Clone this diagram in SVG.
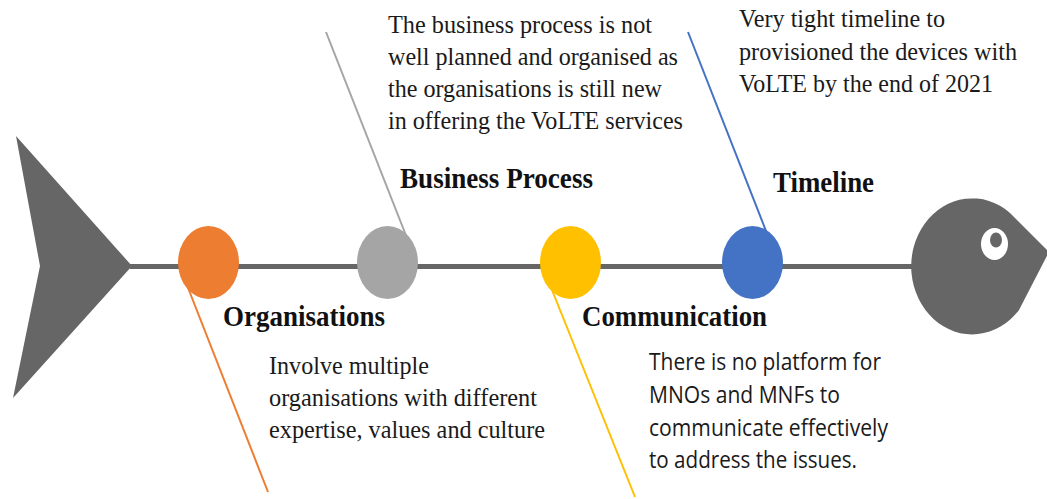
<svg xmlns="http://www.w3.org/2000/svg" width="1047" height="499" viewBox="0 0 1047 499">
  <style>
    .body { fill: #666666; }
    .spine { stroke: #666666; stroke-width: 5; fill: none; }
    .bone { stroke-width: 2; fill: none; }
    .title { font-family: "Liberation Serif", "Times New Roman", serif; font-weight: bold; font-size: 30px; fill: #111; }
    .note { font-family: "Liberation Serif", "Times New Roman", serif; font-size: 26px; fill: #1a1a1a; }
    .note-sans { font-family: "Open Sans", "Noto Sans", sans-serif; font-size: 23.5px; fill: #1a1a1a; }
  </style>

  <rect width="1047" height="499" fill="#ffffff"/>

  <!-- backbone -->
  <line class="spine" x1="130" y1="266.5" x2="915" y2="266.5"/>

  <!-- bones from each cause to its description -->
  <g id="connectors">
    <line class="bone" stroke="#ED7D31" x1="183" y1="275" x2="268" y2="492"/>
    <line class="bone" stroke="#A5A5A5" x1="326" y1="32" x2="407" y2="238"/>
    <line class="bone" stroke="#FFC000" x1="550" y1="285" x2="635" y2="497"/>
    <line class="bone" stroke="#4472C4" x1="688" y1="32" x2="768" y2="236"/>
  </g>

  <!-- tail -->
  <g id="tail">
    <polygon class="body" points="16,136 132,266 13,398 40,266"/>
  </g>

  <!-- head -->
  <g id="head">
    <path class="body" d="M1049,252 L1010,213 A61 68 0 1 0 1019,310 Z"/>
    <ellipse cx="994.5" cy="244" rx="13.5" ry="16" fill="#ffffff"/>
    <ellipse cx="996" cy="240" rx="6" ry="7.5" fill="#666666"/>
  </g>

  <!-- Organisations -->
  <g id="organisations">
    <ellipse cx="208.5" cy="262.5" rx="30.5" ry="36.5" fill="#ED7D31"/>
    <text class="title" x="223" y="326" textLength="162" lengthAdjust="spacingAndGlyphs">Organisations</text>
    <text class="note" x="269" y="374" textLength="160" lengthAdjust="spacingAndGlyphs">Involve multiple</text>
    <text class="note" x="269" y="406" textLength="268" lengthAdjust="spacingAndGlyphs">organisations with different</text>
    <text class="note" x="269" y="438" textLength="276" lengthAdjust="spacingAndGlyphs">expertise, values and culture</text>
  </g>

  <!-- Business Process -->
  <g id="business-process">
    <ellipse cx="387.5" cy="262.5" rx="30.5" ry="36.5" fill="#A5A5A5"/>
    <text class="title" x="400" y="188" textLength="193" lengthAdjust="spacingAndGlyphs">Business Process</text>
    <text class="note" x="388" y="33" textLength="264" lengthAdjust="spacingAndGlyphs">The business process is not</text>
    <text class="note" x="388" y="65" textLength="290" lengthAdjust="spacingAndGlyphs">well planned and organised as</text>
    <text class="note" x="388" y="97" textLength="274" lengthAdjust="spacingAndGlyphs">the organisations is still new</text>
    <text class="note" x="388" y="129" textLength="295" lengthAdjust="spacingAndGlyphs">in offering the VoLTE services</text>
  </g>

  <!-- Communication -->
  <g id="communication">
    <ellipse cx="570.5" cy="262.5" rx="30.5" ry="36.5" fill="#FFC000"/>
    <text class="title" x="582" y="326" textLength="185" lengthAdjust="spacingAndGlyphs">Communication</text>
    <text class="note-sans" x="649" y="370" textLength="232" lengthAdjust="spacingAndGlyphs">There is no platform for</text>
    <text class="note-sans" x="649" y="403" textLength="191" lengthAdjust="spacingAndGlyphs">MNOs and MNFs to</text>
    <text class="note-sans" x="649" y="436" textLength="239" lengthAdjust="spacingAndGlyphs">communicate effectively</text>
    <text class="note-sans" x="649" y="468" textLength="208" lengthAdjust="spacingAndGlyphs">to address the issues.</text>
  </g>

  <!-- Timeline -->
  <g id="timeline">
    <ellipse cx="752.5" cy="262.5" rx="30.5" ry="36.5" fill="#4472C4"/>
    <text class="title" x="773" y="192" textLength="101" lengthAdjust="spacingAndGlyphs">Timeline</text>
    <text class="note" x="739" y="27" textLength="206" lengthAdjust="spacingAndGlyphs">Very tight timeline to</text>
    <text class="note" x="739" y="60" textLength="278" lengthAdjust="spacingAndGlyphs">provisioned the devices with</text>
    <text class="note" x="739" y="92" textLength="254" lengthAdjust="spacingAndGlyphs">VoLTE by the end of 2021</text>
  </g>
</svg>
